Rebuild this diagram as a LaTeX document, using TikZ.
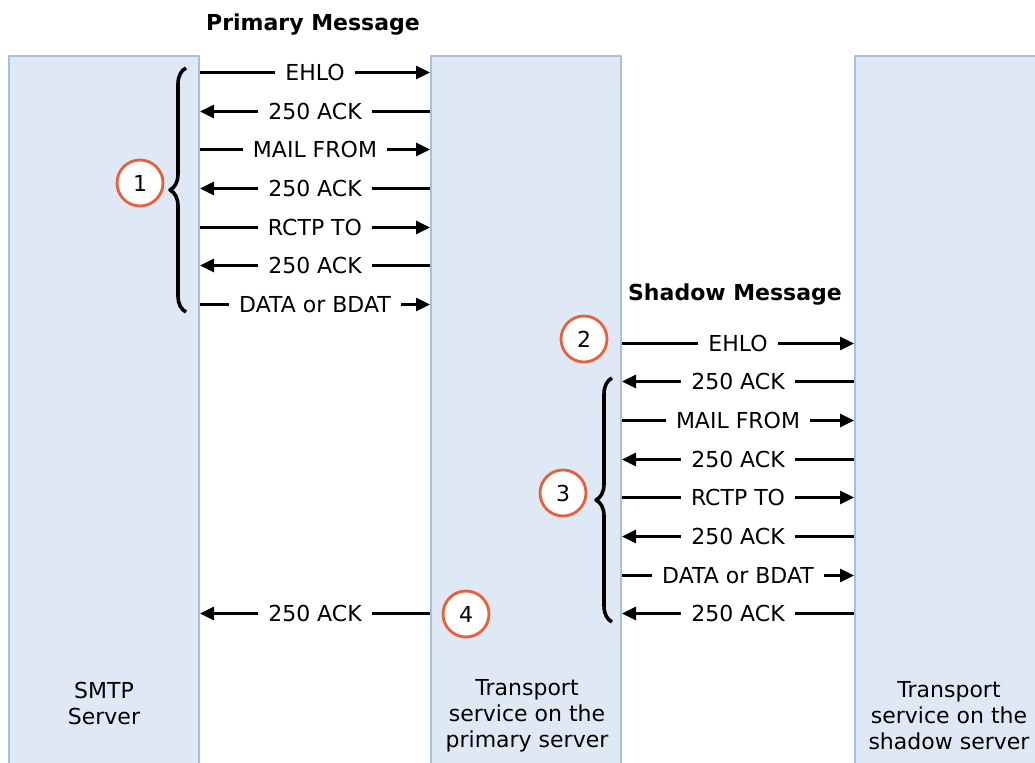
\documentclass[tikz,border=0pt]{standalone}
\usepackage{fontspec}
\setmainfont{DejaVu Sans}
\usetikzlibrary{arrows.meta,decorations.pathreplacing}
\definecolor{colfill}{HTML}{DFE9F5}
\definecolor{colline}{HTML}{A7BFE2}
\definecolor{stepred}{HTML}{E8603A}
\tikzset{
  column/.style={draw=colline, fill=colfill, line width=1pt, minimum width=95pt, minimum height=362pt, inner sep=0pt},
  msg/.style={midway, fill=white, inner sep=5pt, font=\fontsize{11}{13}\selectfont},
  stepmark/.style={circle, draw=stepred, line width=1.4pt, fill=white, minimum size=23pt, inner sep=0pt, font=\fontsize{11}{13}\selectfont},
  bracket/.style={decorate, decoration={brace, amplitude=8pt}, line width=1.8pt},
  heading/.style={font=\bfseries\fontsize{11}{13}\selectfont},
  caption/.style={align=center, font=\fontsize{11}{13}\selectfont}
}
\begin{document}
\begin{tikzpicture}[x=0.5pt, y=-0.5pt, line join=round, >={Triangle[length=7pt, width=6.5pt]}]
\useasboundingbox (0,0) rectangle (1035,763);
\clip (0,0) rectangle (1035,763);
% the three servers
\node[column] (smtp) at (104,418) {};
\node[column] (prim) at (526,418) {};
\node[column, minimum width=100pt] (shad) at (955,418) {};
% one row per message
\foreach \k in {0,...,14} \coordinate (r\k) at (0,{round(72+38.67*\k)+0.5});
\foreach \k/\t/\d in {0/EHLO/->,1/250 ACK/<-,2/MAIL FROM/->,3/250 ACK/<-,4/RCTP TO/->,5/250 ACK/<-,6/DATA or BDAT/->,14/250 ACK/<-}
  \draw[line width=1.5pt, \d] (smtp.east |- r\k) -- (prim.west |- r\k) node[msg] {\t};
\foreach \k/\t/\d in {7/EHLO/->,8/250 ACK/<-,9/MAIL FROM/->,10/250 ACK/<-,11/RCTP TO/->,12/250 ACK/<-,13/DATA or BDAT/->,14/250 ACK/<-}
  \draw[line width=1.5pt, \d] (prim.east |- r\k) -- (shad.west |- r\k) node[msg] {\t};
% headings
\node[heading] (primtitle) at (313,25) {Primary Message};
\node[heading] (shadtitle) at (735,295) {Shadow Message};
% braces and steps
\path (186,312) coordinate (b1s) (186,68) coordinate (b1e)
      (612,622) coordinate (b3s) (612,378) coordinate (b3e);
\draw[bracket] (b1s) -- (b1e);
\draw[bracket] (b3s) -- (b3e);
\foreach \n/\x/\y in {1/140/183,2/584/339,3/563/493,4/466/614}
  \node[stepmark] (step\n) at (\x,\y) {\n};
% server names
\node[caption] (smtpname) at (104,703) {SMTP\\Server};
\node[caption] (primname) at (527,716) {Transport\\service on the\\primary server};
\node[caption] (shadname) at (949,716) {Transport\\service on the\\shadow server};
\end{tikzpicture}
\end{document}
